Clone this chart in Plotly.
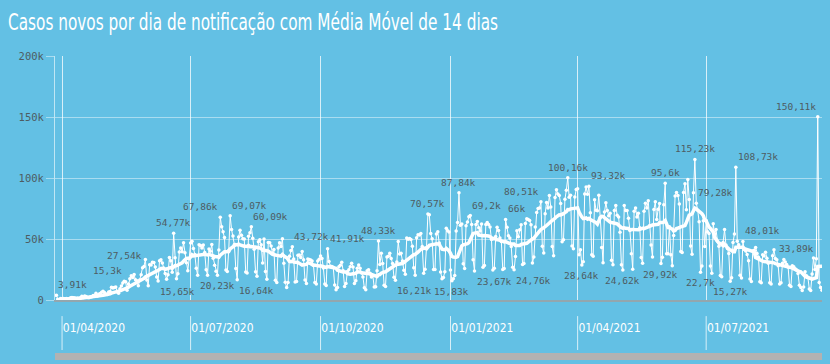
import pandas as pd
import plotly.graph_objects as go

title_text = "Casos novos por dia de notificação com Média Móvel de 14 dias"
start_date = "2020-03-28"

cases_2020_03 = [3910, 487, 352, 1138]
cases_2020_04 = [1119, 1208, 1012, 1304, 770, 1031, 1873, 2136, 1922, 1546,
                 1089, 1442, 1261, 1832, 3058, 2105, 3257, 2917, 2055, 1927,
                 2498, 2678, 3735, 3503, 5514, 3379, 4613, 5385, 6276, 7218]
cases_2020_05 = [6209, 4970, 4588, 6633, 6935, 10503, 9888, 10222, 10611, 6760,
                 5632, 9258, 11385, 13944, 15300, 14919, 7938, 13140, 17408, 19951,
                 18508, 20803, 16508, 15813, 11687, 16324, 20599, 26417, 27540, 33274, 16409]
cases_2020_06 = [11598, 28936, 28633, 30925, 30830, 27075, 18921, 15654, 32091, 32913,
                 30412, 25982, 21704, 17110, 20647, 34918, 32188, 22765, 54771, 34666,
                 17459, 21432, 39436, 42725, 39483, 46907, 38693, 30476, 24052, 33846]
cases_2020_07 = [46712, 48105, 42223, 37279, 26051, 20229, 45305, 44571, 42619, 45048,
                 39023, 24831, 20286, 41857, 39924, 45403, 34177, 28532, 23529, 20257,
                 41008, 67860, 59961, 55891, 51147, 24578, 23284, 40816, 69074, 57837, 52383]
cases_2020_08 = [45392, 25800, 16641, 51603, 57152, 53139, 50230, 49970, 23010, 22048,
                 52160, 55155, 60091, 50644, 41576, 23101, 19373, 47784, 49298, 45323,
                 30355, 50032, 23421, 17078, 47134, 46959, 44235, 38374, 41350, 16158, 14279]
cases_2020_09 = [42659, 46934, 43773, 50163, 30168, 14521, 10273, 14279, 35816, 40557,
                 43718, 33523, 14768, 15155, 36653, 36820, 34906, 39797, 33057, 16389,
                 13439, 33536, 33281, 32817, 31911, 28378, 14318, 13155, 32058, 33413]
cases_2020_10 = [36157, 33922, 26310, 13155, 11946, 41906, 31553, 27750, 27444, 26749,
                 12342, 8426, 10220, 27235, 28523, 30914, 24062, 10982, 13493, 23227,
                 24818, 27235, 30026, 26979, 13493, 15726, 26106, 28629, 26106, 22282, 18947]
cases_2020_11 = [10100, 8501, 23976, 24818, 22000, 18862, 20000, 10554, 10917, 23973,
                 48330, 29070, 38307, 30000, 12000, 11000, 35294, 35918, 38397, 34000,
                 30000, 18615, 16207, 31100, 47898, 37614, 38397, 31991, 24468, 21138]
cases_2020_12 = [50909, 49863, 50434, 49630, 44020, 26363, 20371, 51088, 53453, 53347,
                 54428, 43900, 21825, 25193, 42889, 70574, 69826, 54428, 50177, 25019,
                 25019, 54151, 55890, 46696, 22967, 17341, 18479, 23225, 58718, 56773, 55649]
cases_2021_01 = [24605, 15827, 17341, 20006, 56648, 63430, 87843, 61200, 62290, 29792,
                 25822, 60899, 64025, 68138, 69198, 61832, 33040, 23671, 61963, 64385,
                 59119, 56552, 62334, 26816, 28323, 61963, 63520, 61811, 59826, 49555, 24591]
cases_2021_02 = [26000, 52148, 59692, 56873, 50872, 47913, 24904, 25822, 66003, 59602,
                 52742, 50872, 43812, 26816, 24759, 35742, 56766, 51879, 57603, 61602,
                 29026, 30016, 62715, 66588, 65998, 65169, 61602, 30354]
cases_2021_03 = [35254, 59925, 71704, 75102, 75495, 80508, 44120, 38441, 70764, 79876,
                 75412, 85663, 76178, 43812, 36239, 83926, 90303, 86982, 85663, 79069,
                 47774, 49293, 82493, 89992, 100158, 84245, 85948, 44326, 42107, 84494, 90638]
cases_2021_04 = [91097, 37017, 41218, 28642, 31359, 86979, 92625, 86652, 93317, 71426,
                 37017, 35785, 82186, 73513, 73174, 85774, 67636, 42980, 30624, 72140,
                 79719, 73295, 69105, 71137, 32572, 28935, 73380, 77359, 69389, 67977]
cases_2021_05 = [55555, 28935, 24619, 77359, 73380, 73295, 67009, 56925, 37948, 25200,
                 72715, 75445, 67977, 71137, 59153, 34815, 30021, 72715, 79219, 75445,
                 81433, 61122, 45130, 35208, 74092, 80486, 66017, 74304, 79130, 29916, 35012]
cases_2021_06 = [78014, 95601, 37936, 37948, 60107, 37083, 28151, 52911, 85149, 88092,
                 85748, 78700, 39846, 39002, 88125, 95367, 74042, 98832, 82288, 44178,
                 37498, 87822, 115228, 79277, 73602, 64134, 22703, 27804, 64903, 43836]
cases_2021_07 = [65165, 56002, 54556, 27783, 22015, 62504, 54022, 57737, 48092, 44130,
                 20113, 19087, 47215, 57736, 45021, 42117, 38092, 15271, 18214, 47122,
                 54070, 108732, 48120, 45205, 20377, 18049, 48010, 41411, 40102, 37206, 32110]
cases_2021_08 = [17118, 15143, 40210, 40716, 43031, 38112, 35087, 15044, 14120, 37153,
                 36025, 39112, 34208, 30117, 14038, 13106, 36201, 41093, 34054, 33012,
                 28017, 13035, 14082, 30114, 33108, 31063, 29010, 27106, 12045, 11101, 28033]
cases_2021_09 = [27345, 25565, 24589, 21804, 12100, 10220, 7884, 10615, 23101, 19842,
                 18722, 9003, 7711, 21219, 34407, 25002, 33890, 150106, 14423, 10230, 7982]

labeled_points = [
    ("2020-03-28", "top right"), ("2020-05-15", "top left"), ("2020-05-29", "top left"),
    ("2020-06-19", "top center"), ("2020-06-08", "bottom right"), ("2020-07-22", "top left"),
    ("2020-07-06", "bottom right"), ("2020-07-29", "top right"), ("2020-08-03", "bottom right"),
    ("2020-08-13", "top right"), ("2020-09-11", "top right"), ("2020-10-06", "top right"),
    ("2020-11-11", "top center"), ("2020-11-23", "bottom right"), ("2020-12-16", "top center"),
    ("2021-01-02", "bottom center"), ("2021-01-07", "top center"), ("2021-01-15", "top right"),
    ("2021-01-18", "bottom right"), ("2021-02-09", "top right"), ("2021-02-15", "bottom right"),
    ("2021-03-06", "top left"), ("2021-03-25", "top center"), ("2021-04-04", "bottom center"),
    ("2021-04-09", "top right"), ("2021-05-03", "bottom center"), ("2021-06-02", "top center"),
    ("2021-05-30", "bottom center"), ("2021-06-23", "top center"), ("2021-06-27", "bottom center"),
    ("2021-06-24", "top right"), ("2021-07-22", "top right"), ("2021-07-18", "bottom center"),
    ("2021-07-27", "top right"), ("2021-09-17", "top left"), ("2021-09-18", "top left"),
]

tick_dates = ["2020-04-01", "2020-07-01", "2020-10-01", "2021-01-01", "2021-04-01", "2021-07-01"]
tick_labels = ["01/04/2020", "01/07/2020", "01/10/2020", "01/01/2021", "01/04/2021", "01/07/2021"]
y_tick_vals = [0, 50000, 100000, 150000, 200000]
y_tick_text = ["0", "50k", "100k", "150k", "200k"]

# ---- build ----
values = sum([cases_2020_03, cases_2020_04, cases_2020_05, cases_2020_06, cases_2020_07,
              cases_2020_08, cases_2020_09, cases_2020_10, cases_2020_11, cases_2020_12,
              cases_2021_01, cases_2021_02, cases_2021_03, cases_2021_04, cases_2021_05,
              cases_2021_06, cases_2021_07, cases_2021_08, cases_2021_09], [])
dates = pd.date_range(start_date, periods=len(values), freq="D")
series = pd.Series(values, index=dates)
ma14 = series.rolling(14, min_periods=1).sum() / 14


def fmt_k(v):
    s = f"{round(v / 1000, 2):.2f}".rstrip("0").rstrip(".")
    return s.replace(".", ",") + "k"


BG = "#63c0e4"
LABEL_GRAY = "#4e5c62"
COND = "DejaVu Sans Condensed, Liberation Sans Narrow, Roboto, sans-serif"

fig = go.Figure()
fig.add_trace(go.Scatter(
    x=dates, y=values, mode="lines+markers",
    line=dict(color="white", width=1),
    marker=dict(color="white", size=3.5),
    hoverinfo="skip", showlegend=False))
fig.add_trace(go.Scatter(
    x=dates, y=ma14, mode="lines",
    line=dict(color="white", width=3.5),
    hoverinfo="skip", showlegend=False))

for d, pos in labeled_points:
    ts = pd.Timestamp(d)
    v = series[ts]
    vert, horiz = pos.split()
    fig.add_annotation(
        x=ts, y=v, xref="x", yref="y", text=fmt_k(v), showarrow=False,
        xanchor={"left": "right", "center": "center", "right": "left"}[horiz],
        yanchor="bottom" if vert == "top" else "top",
        yshift=3 if vert == "top" else -3,
        font=dict(family="DejaVu Sans Mono", size=9.5, color=LABEL_GRAY))

for d in tick_dates:
    fig.add_shape(type="line", xref="x", yref="paper", x0=d, x1=d, y0=-0.066, y1=-0.205,
                  line=dict(color="rgba(255,255,255,0.75)", width=1))
fig.add_shape(type="rect", xref="paper", yref="paper", x0=0, x1=1, y0=-0.217, y1=-0.246,
              line=dict(width=0), fillcolor="#b2b2b2")

fig.update_layout(
    width=830, height=364,
    paper_bgcolor=BG, plot_bgcolor=BG,
    margin=dict(l=55, r=8, t=56, b=64, autoexpand=False),
    title=dict(text=title_text, x=8 / 830, xref="container", xanchor="left",
               y=1 - 22 / 364, yref="container", yanchor="middle",
               font=dict(family=COND, size=23, color="white")),
    xaxis=dict(
        range=["2020-03-27", "2021-09-21"],
        tickvals=tick_dates, ticktext=tick_labels,
        ticklabelposition="outside right", ticklabelstandoff=16,
        tickfont=dict(family=COND, size=12, color="white"),
        showgrid=True, gridcolor="rgba(255,255,255,0.75)", gridwidth=1,
        showline=True, linecolor="#93a6ae", linewidth=1.5,
        zeroline=False, ticks=""),
    yaxis=dict(
        range=[0, 200000], tickvals=y_tick_vals, ticktext=y_tick_text,
        tickfont=dict(family="DejaVu Sans Mono", size=10.5, color=LABEL_GRAY),
        showgrid=True, gridcolor="rgba(255,255,255,0.45)", gridwidth=1,
        ticks="outside", ticklen=8, tickcolor="rgba(255,255,255,0.45)",
        showline=True, linecolor="rgba(255,255,255,0.6)", linewidth=1,
        zeroline=False),
)

post = (
    "document.body.style.margin='0';"
    "document.body.style.background='%s';"
    "var t=document.querySelector('.gtitle');"
    "if(t){t.setAttribute('textLength','490');t.setAttribute('lengthAdjust','spacingAndGlyphs');}"
) % BG

fig.write_html("out.html", config={"displayModeBar": False}, post_script=post)
